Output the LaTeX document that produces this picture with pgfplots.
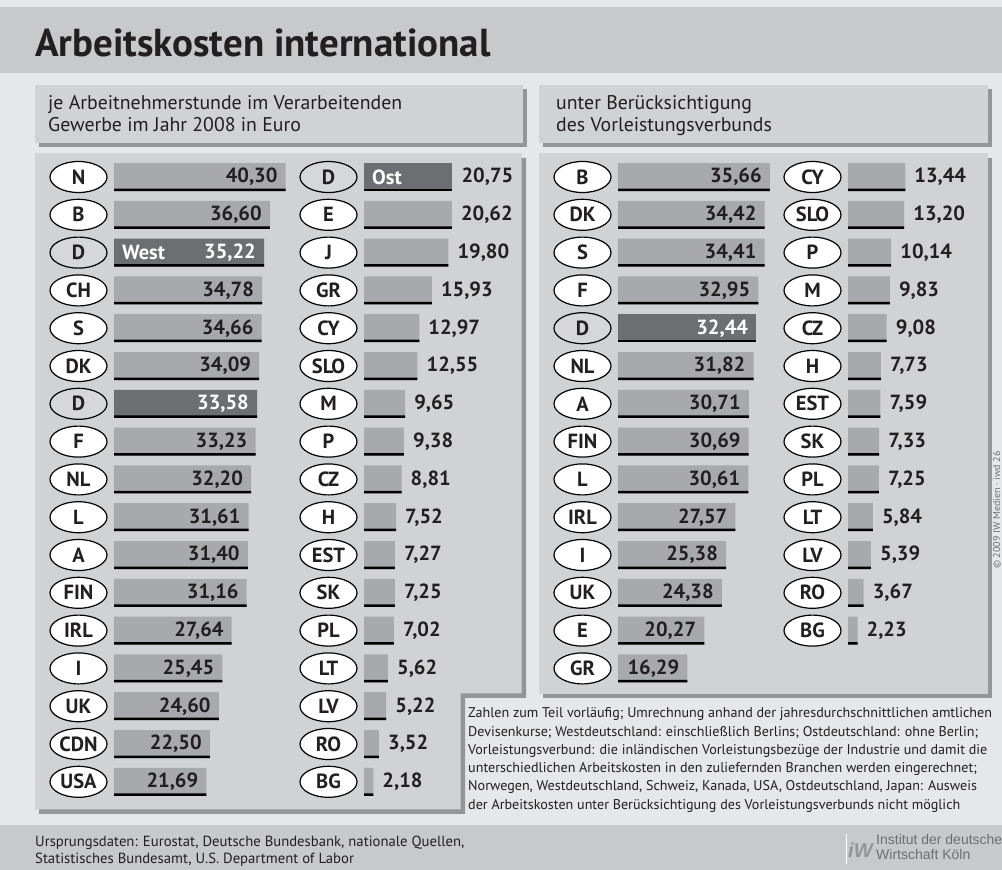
\documentclass[border=0pt]{standalone}
\usepackage{pgfplots}
\pgfplotsset{compat=1.18}
\usepackage{pgfplotstable}
\usepackage{fontspec}
\setmainfont{PT Sans}
\newfontfamily\logofont{Liberation Sans}
\usetikzlibrary{shapes.geometric}
\definecolor{bg}{HTML}{E6E7E8}
\definecolor{band}{HTML}{C8C9CB}
\definecolor{panel}{HTML}{D1D2D4}
\definecolor{shadow}{HTML}{939598}
\definecolor{barc}{HTML}{A7A9AC}
\definecolor{darkbar}{HTML}{6D6E71}
\definecolor{ink}{HTML}{231F20}
\definecolor{dfill}{HTML}{D6D7D9}

% ---------- data ----------
\pgfplotstableread{
row val
0 40.30
1 36.60
3 34.78
4 34.66
5 34.09
7 33.23
8 32.20
9 31.61
10 31.40
11 31.16
12 27.64
13 25.45
14 24.60
15 22.50
16 21.69
}\cAlight
\pgfplotstableread{
row val
2 35.22
6 33.58
}\cAdark
\pgfplotstableread{
row lab
0 N
1 B
3 CH
4 S
5 DK
7 F
8 NL
9 L
10 A
11 FIN
12 IRL
13 I
14 UK
15 CDN
16 USA
}\cAlab
\pgfplotstableread{
row lab
2 D
6 D
}\cAdlab

\pgfplotstableread{
row val
1 20.62
2 19.80
3 15.93
4 12.97
5 12.55
6 9.65
7 9.38
8 8.81
9 7.52
10 7.27
11 7.25
12 7.02
13 5.62
14 5.22
15 3.52
16 2.18
}\cBlight
\pgfplotstableread{
row val
0 20.75
}\cBdark
\pgfplotstableread{
row lab
1 E
2 J
3 GR
4 CY
5 SLO
6 M
7 P
8 CZ
9 H
10 EST
11 SK
12 PL
13 LT
14 LV
15 RO
16 BG
}\cBlab
\pgfplotstableread{
row lab
0 D
}\cBdlab

\pgfplotstableread{
row val
0 35.66
1 34.42
2 34.41
3 32.95
5 31.82
6 30.71
7 30.69
8 30.61
9 27.57
10 25.38
11 24.38
12 20.27
13 16.29
}\cClight
\pgfplotstableread{
row val
4 32.44
}\cCdark
\pgfplotstableread{
row lab
0 B
1 DK
2 S
3 F
5 NL
6 A
7 FIN
8 L
9 IRL
10 I
11 UK
12 E
13 GR
}\cClab
\pgfplotstableread{
row lab
4 D
}\cCdlab

\pgfplotstableread{
row val
0 13.44
1 13.20
2 10.14
3 9.83
4 9.08
5 7.73
6 7.59
7 7.33
8 7.25
9 5.84
10 5.39
11 3.67
12 2.23
}\cDlight
\pgfplotstableread{
row lab
0 CY
1 SLO
2 P
3 M
4 CZ
5 H
6 EST
7 SK
8 PL
9 LT
10 LV
11 RO
12 BG
}\cDlab

\newcommand{\bigbf}{\fontsize{20.5}{20.5}\selectfont\bfseries}

\pgfplotsset{
  barcol/.style={hide axis, clip=false, scale only axis, x=4.26pt, y=37.8pt,
    y dir=reverse, xmin=0, xmax=42, ymin=-0.5, ymax=16.5, anchor=north west},
  lightbar/.style={xbar, bar width=28pt, bar shift=0pt, fill=barc, draw=none},
  darkbarst/.style={xbar, bar width=28pt, bar shift=0pt, fill=darkbar, draw=none},
  underline/.style={xbar, bar width=2.5pt, bar shift=-12.75pt, fill=black, draw=none},
  valfmt/.style={point meta=x, nodes near coords={\pgfmathprintnumber[fixed,fixed zerofill,precision=2,use comma,assume math mode=true]{\pgfplotspointmeta}}},
  inside/.style={valfmt, every node near coord/.append style={anchor=east, inner sep=0pt, xshift=-8pt, font=\bigbf, text=ink}},
  insidew/.style={valfmt, every node near coord/.append style={anchor=east, inner sep=0pt, xshift=-8pt, font=\bigbf, text=white}},
  outside/.style={valfmt, every node near coord/.append style={anchor=west, inner sep=0pt, xshift=9pt, font=\bigbf, text=ink}},
  oval/.style={draw=none, mark=none, point meta=explicit symbolic, nodes near coords,
    every node near coord/.append style={anchor=center, ellipse, draw=black, line width=1.2pt,
      fill=#1, minimum width=57pt, minimum height=31pt, inner sep=0pt, xshift=-35.5pt,
      font=\bigbf, text=ink}},
  tag/.style={draw=none, mark=none, point meta=explicit symbolic, nodes near coords,
    every node near coord/.append style={anchor=west, inner sep=0pt, xshift=8pt, font=\bigbf, text=white}},
}

\begin{document}
\begin{tikzpicture}[x=1pt,y=1pt]
\useasboundingbox (0,0) rectangle (1002,-870);
% background
\fill[bg] (0,0) rectangle (1002,-870);
\fill[band] (0,-7) rectangle (1002,-73);
\fill[band] (0,-825) rectangle (1002,-870);
\node[anchor=base west, inner sep=0pt, font=\fontsize{39}{39}\selectfont\bfseries, text=ink] at (35,-56) {Arbeitskosten international};

% subtitle boxes
\fill[shadow] (39,-89) rectangle (526.7,-146.7);
\fill[panel] (35,-85) rectangle (522.7,-142.7);
\fill[shadow] (543.3,-89) rectangle (992.3,-146.7);
\fill[panel] (539.3,-85) rectangle (988.3,-142.7);
\node[anchor=base west, inner sep=0pt, align=left, font=\fontsize{19.8}{22}\selectfont, text=ink] at (48,-131.5)
  {je Arbeitnehmerstunde im Verarbeitenden\\Gewerbe im Jahr 2008 in Euro};
\node[anchor=base west, inner sep=0pt, align=left, font=\fontsize{19.8}{22}\selectfont, text=ink] at (556,-131.5)
  {unter Berücksichtigung\\des Vorleistungsverbunds};

% panels
\fill[shadow] (39,-157.8) -- (526,-157.8) -- (526,-697.8) -- (465,-697.8) -- (465,-813.8) -- (39,-813.8) -- cycle;
\fill[panel] (35,-153.3) -- (521.7,-153.3) -- (521.7,-693.3) -- (460.7,-693.3) -- (460.7,-809.3) -- (35,-809.3) -- cycle;
\fill[shadow] (543.3,-157.8) rectangle (992.3,-698.3);
\fill[panel] (539.3,-153.3) rectangle (988.3,-694.3);

% column 1
\begin{axis}[barcol, at={(114pt,-158.1pt)}]
\addplot[lightbar, inside] table[x=val,y=row]{\cAlight};
\addplot[darkbarst, insidew] table[x=val,y=row]{\cAdark};
\addplot[underline] table[x=val,y=row]{\cAlight};
\addplot[underline] table[x=val,y=row]{\cAdark};
\addplot[oval=white] table[x expr=0,y=row,meta=lab]{\cAlab};
\addplot[oval=dfill] table[x expr=0,y=row,meta=lab]{\cAdlab};
\addplot[tag] coordinates {(0,2) [West]};
\end{axis}

% column 2
\begin{axis}[barcol, at={(364pt,-158.1pt)}]
\addplot[lightbar, outside] table[x=val,y=row]{\cBlight};
\addplot[darkbarst, outside] table[x=val,y=row]{\cBdark};
\addplot[underline] table[x=val,y=row]{\cBlight};
\addplot[underline] table[x=val,y=row]{\cBdark};
\addplot[oval=white] table[x expr=0,y=row,meta=lab]{\cBlab};
\addplot[oval=dfill] table[x expr=0,y=row,meta=lab]{\cBdlab};
\addplot[tag] coordinates {(0,0) [Ost]};
\end{axis}

% column 3
\begin{axis}[barcol, at={(618pt,-158.1pt)}]
\addplot[lightbar, inside] table[x=val,y=row]{\cClight};
\addplot[darkbarst, insidew] table[x=val,y=row]{\cCdark};
\addplot[underline] table[x=val,y=row]{\cClight};
\addplot[underline] table[x=val,y=row]{\cCdark};
\addplot[oval=white] table[x expr=0,y=row,meta=lab]{\cClab};
\addplot[oval=dfill] table[x expr=0,y=row,meta=lab]{\cCdlab};
\end{axis}

% column 4
\begin{axis}[barcol, at={(848pt,-158.1pt)}]
\addplot[lightbar, outside] table[x=val,y=row]{\cDlight};
\addplot[underline] table[x=val,y=row]{\cDlight};
\addplot[oval=white] table[x expr=0,y=row,meta=lab]{\cDlab};
\end{axis}

% footnote (anchor at last line's baseline)
\node[anchor=base west, inner sep=0pt, align=left, font=\fontsize{14.1}{18.3}\selectfont, text=ink] at (468,-809.2)
  {Zahlen zum Teil vorläufig; Umrechnung anhand der jahresdurchschnittlichen amtlichen\\
   Devisenkurse; Westdeutschland: einschließlich Berlins; Ostdeutschland: ohne Berlin;\\
   Vorleistungsverbund: die inländischen Vorleistungsbezüge der Industrie und damit die\\
   unterschiedlichen Arbeitskosten in den zuliefernden Branchen werden eingerechnet;\\
   Norwegen, Westdeutschland, Schweiz, Kanada, USA, Ostdeutschland, Japan: Ausweis\\
   der Arbeitskosten unter Berücksichtigung des Vorleistungsverbunds nicht möglich};

% source
\node[anchor=base west, inner sep=0pt, align=left, font=\fontsize{14.7}{17}\selectfont, text=ink] at (35,-863)
  {Ursprungsdaten: Eurostat, Deutsche Bundesbank, nationale Quellen,\\
   Statistisches Bundesamt, U.S. Department of Labor};

% logo & copyright
\begin{scope}
\clip (0,0) rectangle (1002,-870);
\fill[white] (845.5,-834) rectangle (847,-864);
\node[anchor=base west, inner sep=0pt, font=\logofont\fontsize{20}{20}\selectfont\bfseries\itshape, text=shadow] at (848,-857) {iW};
\node[anchor=base west, inner sep=0pt, align=left, font=\logofont\fontsize{14}{15}\selectfont, text=darkbar] at (876,-859)
  {Institut der deutschen\\Wirtschaft Köln};
\node[rotate=90, anchor=south, inner sep=0pt, font=\fontsize{10}{10}\selectfont, text=darkbar] at (1001,-510) {© 2009 IW Medien · iwd 26};
\end{scope}
\end{tikzpicture}
\end{document}
